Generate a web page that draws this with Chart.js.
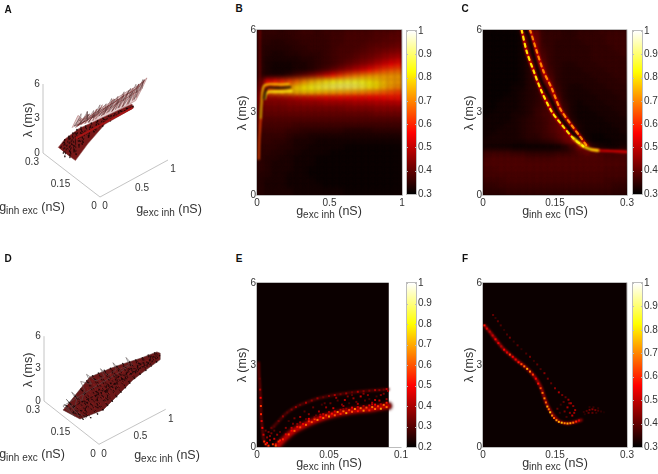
<!DOCTYPE html>
<html>
<head>
<meta charset="utf-8">
<script src="https://cdn.jsdelivr.net/npm/chart.js@4/dist/chart.umd.js"></script>
<style>
  body { margin: 0; background: #fff; width: 658px; height: 474px; overflow: hidden; position: relative; font-family: "Liberation Sans", sans-serif; color: #333; }
  canvas { position: absolute; }
  .lab { position: absolute; transform: translate(-50%, -50%); white-space: nowrap; font-size: 12.5px; }
  .lab sub { font-size: 10px; vertical-align: -3px; line-height: 0; }
  .rot { transform: translate(-50%, -50%) rotate(-90deg); }
  .panel { position: absolute; transform: translate(-50%, -50%); font-size: 10px; font-weight: bold; color: #111; }
</style>
</head>
<body>
<script>
// tick labels
const lamTicks = [0, 3, 6];
const gExcTicksB = [0, 0.5, 1];
const gInhTicks = [0, 0.15, 0.3];
const gExcTicksE = [0, 0.05, 0.1];
const barTicks3 = [0.3, 0.4, 0.5, 0.6, 0.7, 0.8, 0.9, 1];
const barTicks2 = [0.2, 0.3, 0.4, 0.5, 0.6, 0.7, 0.8, 0.9, 1];

// panel B, percent values, rows go from lambda 5.9 to 0.1, 20 columns
const heatB = [
  [36,36,36,35,36,36,37,37,36,37,37,37,38,38,38,38,39,39,39,40],
  [36,35,35,35,35,36,36,36,36,36,37,37,38,38,38,38,39,39,40,40],
  [35,35,34,34,35,35,36,36,36,36,37,37,38,38,38,39,39,40,40,41],
  [35,34,34,34,34,35,35,36,36,36,37,38,38,38,39,40,41,41,42,43],
  [35,34,33,33,34,34,35,35,35,36,37,38,38,39,40,41,42,44,45,46],
  [35,33,33,33,33,33,34,34,35,36,37,38,39,40,42,43,45,47,49,51],
  [35,33,32,32,32,33,33,34,35,36,37,39,41,43,45,47,50,53,56,58],
  [35,33,32,32,32,33,33,34,36,38,41,44,47,50,53,57,60,63,65,66],
  [35,33,33,33,35,38,41,44,48,52,57,61,65,68,70,72,73,73,73,73],
  [38,55,58,60,63,66,70,74,77,80,83,84,85,85,84,81,79,76,74,73],
  [40,62,65,67,72,77,81,84,86,88,89,90,90,89,87,84,81,77,74,72],
  [42,68,72,74,76,78,79,79,78,77,76,75,74,73,72,70,69,67,65,63],
  [44,46,46,47,48,50,51,52,53,54,54,55,55,55,55,56,56,57,58,58],
  [43,44,44,44,45,45,46,46,46,47,47,47,47,48,48,48,49,49,49,50],
  [42,42,42,42,43,43,43,43,43,43,43,43,44,44,44,44,45,45,45,45],
  [41,41,41,41,41,41,41,41,41,41,41,41,41,41,41,41,42,42,42,42],
  [40,39,39,39,39,39,39,39,39,39,39,39,39,39,39,39,39,39,39,39],
  [39,38,38,38,38,37,37,37,37,37,37,37,37,37,37,37,37,37,37,37],
  [37,37,37,37,36,36,35,35,35,35,35,35,34,34,34,34,35,35,35,35],
  [36,36,36,36,35,34,34,33,33,33,33,33,33,33,33,33,33,33,33,33],
  [36,36,35,35,34,33,33,33,32,32,32,32,32,32,32,32,32,32,32,32],
  [35,35,35,34,34,33,33,32,32,32,32,32,31,31,31,31,31,31,31,31],
  [35,35,34,34,33,33,32,32,32,32,31,31,31,31,31,31,31,31,31,31],
  [35,34,34,33,33,32,32,32,31,31,31,31,31,31,31,31,31,31,31,31],
  [35,34,33,33,33,32,32,32,31,31,31,31,31,31,31,31,31,31,31,31],
  [35,34,33,33,33,32,32,31,31,31,31,31,31,31,31,31,31,31,31,31],
  [34,34,33,33,32,32,32,31,31,31,31,31,31,31,31,31,31,31,31,31],
  [34,33,33,33,32,32,32,32,31,31,31,31,31,31,31,31,31,31,31,31],
  [34,33,33,33,32,32,32,32,32,31,31,31,31,31,31,31,31,31,31,31],
  [34,33,33,33,33,32,32,32,32,32,32,32,31,31,31,31,31,31,31,31]
];
const ridgeFaintG = [0.02, 0.02, 0.021]; const ridgeFaintL = [6, 4.5, 3.4];
const ridgeStemG = [0.012, 0.016, 0.02, 0.025]; const ridgeStemL = [1.3, 2, 2.4, 2.8];
const ridgeTopG = [0.025, 0.032, 0.036, 0.05, 0.09, 0.16, 0.22]; const ridgeTopL = [2.8, 3.4, 3.7, 3.98, 4.03, 4.02, 4.03];
const ridgeLowG = [0.055, 0.065, 0.1, 0.17, 0.24]; const ridgeLowL = [3.5, 3.72, 3.76, 3.76, 3.78];
const ridgeCoreG = [0.05, 0.056, 0.07, 0.13, 0.18, 0.23]; const ridgeCoreL = [3.5, 3.72, 3.9, 3.9, 3.9, 3.92];

// panel C, same layout as panel B
const heatC = [
  [31,31,31,31,31,33,42,42,36,36,36,35,35,36,36,36,37,37,37,37],
  [31,31,31,31,31,32,41,42,36,36,36,35,35,36,36,36,36,37,37,37],
  [31,31,31,31,31,32,39,43,36,36,35,35,35,35,36,36,36,37,37,37],
  [31,31,31,31,31,32,38,43,37,36,35,35,35,35,35,36,36,36,37,37],
  [31,31,31,31,31,32,36,43,38,36,35,35,35,35,35,36,36,36,36,37],
  [31,31,31,31,31,32,35,43,39,36,35,35,35,35,35,36,36,36,36,36],
  [31,31,31,31,31,32,34,42,41,36,35,34,34,35,35,35,36,36,36,36],
  [31,31,31,31,31,32,34,40,42,37,35,34,34,34,35,35,35,36,36,36],
  [31,31,31,31,31,32,34,38,43,38,35,34,34,34,34,35,35,35,36,36],
  [31,31,31,31,31,32,34,36,43,40,35,34,34,34,34,34,35,35,35,36],
  [31,31,31,31,32,32,34,35,41,41,36,34,33,33,34,34,34,35,35,35],
  [31,31,31,31,32,33,34,35,39,43,37,34,33,33,33,34,34,34,35,35],
  [31,31,31,32,32,33,34,35,38,43,39,34,33,33,33,33,34,34,34,35],
  [31,31,32,32,32,33,34,35,37,42,41,35,33,32,33,33,33,34,34,34],
  [31,31,32,32,32,33,34,36,37,40,43,36,33,32,32,33,33,33,34,34],
  [31,32,32,32,33,33,34,36,38,39,43,38,33,32,32,32,33,33,33,34],
  [32,32,32,32,33,34,35,36,37,39,42,40,34,32,32,32,32,33,33,33],
  [32,32,32,33,33,34,35,36,37,39,41,43,36,33,32,32,32,32,33,33],
  [32,32,33,33,33,34,35,36,37,39,41,43,40,33,32,32,32,32,32,33],
  [32,33,33,33,33,34,35,35,37,38,40,43,43,35,32,31,31,32,32,32],
  [33,33,33,33,33,33,34,34,35,36,38,42,46,41,33,31,31,31,32,32],
  [32,32,32,32,31,31,31,31,31,31,31,33,37,46,44,35,33,32,32,33],
  [37,37,37,37,36,36,35,35,35,35,36,36,37,39,42,41,39,38,38,40],
  [38,39,39,39,39,39,38,38,38,38,39,39,39,39,39,39,39,38,38,38],
  [39,39,39,39,39,39,39,39,39,39,39,39,39,39,39,39,39,39,39,39],
  [38,38,39,39,39,39,39,39,39,39,39,39,39,39,39,39,39,38,38,38],
  [38,38,38,38,38,38,38,38,38,38,38,38,38,38,38,38,38,38,38,38],
  [37,37,37,38,38,38,38,38,38,38,38,38,38,38,38,38,38,37,37,37],
  [36,36,37,37,37,37,37,37,37,37,37,37,37,37,37,37,37,37,36,36],
  [35,35,35,36,36,36,36,36,36,36,36,36,36,36,36,36,36,36,35,35]
];
const rimLeftG = [0.0806, 0.091, 0.107, 0.122, 0.143, 0.164, 0.188, 0.209]; const rimLeftL = [6, 5.22, 4.44, 3.77, 3.04, 2.56, 2.07, 1.77];
const rimRightG = [0.098, 0.112, 0.126, 0.143, 0.16, 0.181, 0.202, 0.217]; const rimRightL = [6, 5.22, 4.5, 3.89, 3.16, 2.62, 2.13, 1.77];
const rimCoreG = [0.0885, 0.0944, 0.105, 0.122, 0.14, 0.157, 0.178, 0.199]; const rimCoreL = [6, 5.83, 5.1, 4.13, 3.53, 2.92, 2.44, 2.01];
const rimTipG = [0.188, 0.209, 0.226, 0.24]; const rimTipL = [2.07, 1.77, 1.65, 1.62];
const rimTailG = [0.226, 0.25, 0.265, 0.3]; const rimTailL = [1.65, 1.61, 1.6, 1.57];

// panel E, bands and cells
const bandLowG = [0.0148, 0.0194, 0.0241, 0.0287, 0.0356, 0.0426, 0.0495, 0.0565, 0.0634, 0.0704, 0.0773, 0.0842, 0.0912];
const bandLowL = [0.07, 0.317, 0.536, 0.683, 0.866, 1.012, 1.134, 1.232, 1.293, 1.353, 1.378, 1.439, 1.5];
const bandUpG = [0.0102, 0.0148, 0.0194, 0.0241, 0.0287, 0.0356, 0.0426, 0.0495, 0.0565, 0.0634, 0.0704, 0.0773, 0.0842, 0.0912];
const bandUpL = [0.683, 0.927, 1.195, 1.378, 1.512, 1.658, 1.78, 1.866, 1.927, 1.987, 2.024, 2.06, 2.085, 2.11];
const spikeG = [0.0012, 0.0014, 0.0025, 0.0028, 0.0037, 0.005, 0.008]; const spikeL = [3.1, 2.76, 1.78, 1.17, 0.68, 0.2, 0];
const cellsEG = [
  .013,.016,.018,.02,.022,.024,.026,.028,.03,.032,.034,.036,.038,.04,.042,.044,.046,.048,.05,.052,.054,.056,.058,.06,.062,.064,.066,.068,.07,.072,.074,.076,.078,.08,.082,.084,.086,.088,.09,
  .024,.03,.036,.04,.046,.05,.054,.058,.062,.066,.07,.074,.078,.082,.086,.09,.028,.044,.06,.08,
  .012,.015,.018,.021,.024,.027,.03,.034,.038,.042,.046,.05,.054,.058,.062,.066,.07,.074,.078,.082,.085,.088,.09,.091,
  .016,.02,.022,.026,.03,.033,.036,.039,.043,.045,.048,.051,.053,.056,.059,.061,.064,.067,.069,.072,.075,.077,.08,.083,.085,.088,.09,.041,.047,.055,.063,.07,.078,.086,.034,.025,.06,.066,.074,.082,
  .0014,.0018,.0022,.0025,.0027,.0028,.0032,.0037,.0045,.005,.006,.007,.008,.009,.01,.011,.012,.013,.015,.006,.008,.01,.012,.014,.009,.007
];
const cellsEL = [
  .1,.24,.28,.46,.46,.6,.59,.74,.72,.84,.81,.94,.91,1.02,.99,1.1,1.06,1.16,1.12,1.22,1.16,1.28,1.21,1.31,1.24,1.35,1.29,1.39,1.31,1.42,1.33,1.44,1.34,1.46,1.39,1.49,1.4,1.54,1.46,
  .7,.9,1.03,1.08,1.2,1.28,1.3,1.36,1.4,1.44,1.46,1.5,1.52,1.55,1.56,1.62,.84,1.18,1.38,1.56,
  .75,.95,1.12,1.26,1.37,1.46,1.54,1.62,1.7,1.78,1.82,1.87,1.9,1.93,1.96,2,2.02,2.04,2.06,2.08,2.08,2.1,2.12,2.05,
  .55,.7,.95,1.05,1.1,1.3,1.2,1.45,1.3,1.55,1.45,1.6,1.42,1.7,1.55,1.72,1.6,1.78,1.65,1.85,1.7,1.9,1.62,1.85,1.7,1.95,1.75,1.15,1.6,1.8,1.85,1.58,1.75,1.9,1.02,.85,1.5,1.9,1.95,1.72,
  2.9,2.5,2.1,1.8,1.5,1.2,.95,.7,.45,.2,.1,.35,.05,.25,.5,.1,.3,.05,.2,.6,.55,.7,.6,.45,.4,.15
];
const cellsEV = [
  .48,.52,.54,.46,.58,.5,.6,.52,.58,.48,.62,.54,.6,.56,.64,.5,.62,.56,.66,.52,.6,.64,.54,.62,.68,.56,.6,.64,.52,.62,.66,.58,.54,.64,.62,.56,.68,.62,.64,
  .44,.4,.48,.38,.44,.4,.46,.42,.38,.48,.44,.4,.46,.5,.42,.52,.36,.4,.38,.44,
  .29,.33,.37,.3,.35,.38,.32,.4,.36,.38,.32,.36,.4,.34,.38,.32,.4,.36,.34,.4,.36,.32,.42,.38,
  .3,.36,.28,.34,.4,.3,.36,.32,.4,.28,.38,.32,.44,.3,.36,.42,.28,.38,.32,.44,.3,.36,.4,.28,.42,.34,.38,.32,.3,.38,.34,.4,.28,.36,.32,.34,.38,.3,.36,.42,
  .28,.32,.4,.5,.56,.54,.46,.5,.44,.55,.56,.38,.55,.4,.34,.56,.44,.6,.55,.32,.34,.32,.3,.38,.36,.5
];

// panel F
const curveG = [0.0035, 0.0139, 0.0278, 0.0417, 0.0556, 0.0694, 0.0833, 0.0972, 0.111, 0.1215, 0.1285, 0.1354, 0.1458, 0.1597, 0.177, 0.194, 0.205];
const curveL = [4.44, 4.22, 3.91, 3.61, 3.39, 3.18, 3.0, 2.78, 2.49, 2.15, 1.78, 1.475, 1.17, 0.927, 0.866, 0.927, 0.988];
const cellsFG = [
  .003,.008,.014,.02,.026,.032,.038,.044,.05,.056,.062,.068,.074,.08,.086,.092,.098,.104,.11,.115,.12,.124,.128,.131,.134,.137,.14,.144,.148,.153,.158,.164,.17,.176,.182,.188,.194,.2,
  .021,.026,.031,.037,.044,.05,.056,.064,.072,.08,.09,.098,.106,.113,.12,.128,.135,.142,.15,.158,.165,.172,.178,.183,.188,.192,
  .155,.162,.17,.176,.181,.186,.19,.174,.168,.16,.18,
  .21,.216,.222,.228,.234,.24,.246,.252,.22,.228,.236,.212,.222,.23,.24
];
const cellsFL = [
  4.45,4.33,4.22,4.08,3.94,3.8,3.68,3.56,3.46,3.38,3.3,3.2,3.1,3.03,2.95,2.86,2.76,2.65,2.5,2.32,2.15,1.98,1.78,1.63,1.48,1.38,1.27,1.15,1.06,.98,.92,.89,.87,.86,.87,.89,.93,.97,
  4.83,4.72,4.6,4.45,4.28,4.12,4,3.86,3.72,3.58,3.42,3.3,3.15,3.02,2.85,2.7,2.5,2.33,2.15,2,1.9,1.82,1.73,1.6,1.5,1.35,
  1.4,1.55,1.3,1.45,1.25,1.15,1.25,1.1,1.65,1.25,1.6,
  1.28,1.32,1.36,1.38,1.35,1.33,1.3,1.27,1.25,1.25,1.25,1.2,1.46,1.45,1.42
];
const cellsFV = [
  .58,.52,.48,.5,.56,.54,.48,.56,.52,.62,.55,.54,.58,.64,.68,.74,.7,.62,.56,.58,.64,.68,.7,.66,.74,.68,.76,.7,.66,.72,.74,.76,.7,.74,.72,.68,.6,.52,
  .4,.36,.4,.38,.35,.38,.42,.36,.4,.35,.38,.42,.36,.4,.38,.44,.42,.4,.44,.48,.42,.4,.46,.48,.44,.48,
  .4,.36,.42,.48,.44,.5,.46,.38,.4,.36,.44,
  .35,.38,.42,.44,.42,.38,.35,.33,.4,.4,.36,.34,.35,.36,.35
];

// panel A, mesh read as gExc, gInh, lambda
const stripAExc = [0, .04, .25, 1, 1, .63, .38, .17, .14];
const stripAInh = [.22, .2, .2, .19, .18, .2, .2, .19, .22];
const stripALam = [1.5, 2.35, 2.6, 2.45, 2.25, 1.75, .85, .2, .4];
const fanAExc = [.05, .054, .1, .15, .2, .3, .42, .55, .7, .85, .97, .93, 1, .49];
const fanAInh = [.165, .135, .13, .12, .125, .12, .115, .115, .11, .105, .1, .11, .17, .15];
const fanALam = [3.75, 5.2, 4.8, 5.1, 4.8, 5.1, 5.2, 5.3, 5.5, 5.6, 5.96, 5.1, 3, 3.4];
const gridAExc = [.05,.08,.12,.15,.19,.22,.26,.29,.33,.36,.4,.43,.47,.5,.54,.57,.61,.64,.68,.71,.75,.78,.82,.85,.89,.92,.96,.98];
const gridAInh = [.125,.165,.12,.17,.125,.165,.12,.165,.115,.165,.12,.16,.125,.165,.115,.16,.12,.165,.12,.16,.115,.16,.12,.155,.115,.15,.11,.14];
const gridALam = [5.1,3.8,4.7,3.6,5,3.7,4.8,3.5,5.2,3.6,4.9,3.6,4.8,3.4,5.3,3.5,4.9,3.3,5.1,3.4,5.4,3.3,5,3.4,5.5,3.6,5.7,4.3];
const crossAExc = [.08,.2,.32,.44,.56,.68,.8,.92,.97,.85,.72,.6,.48,.36,.24,.12,.1,.22,.34,.46,.58,.7,.82,.94];
const crossAInh = [.14,.135,.14,.13,.14,.13,.14,.125,.115,.135,.125,.14,.13,.145,.14,.15,.155,.15,.155,.15,.155,.145,.15,.135];
const crossALam = [4.6,4.5,4.5,4.7,4.5,4.8,4.6,5,5.5,4.7,5,4.5,4.7,4.2,4.3,4,3.9,4,3.9,4,3.9,4.2,4.1,4.5];
const hatchAExc = [.06,.1,.14,.18,.23,.27,.31,.35,.39,.44,.48,.52,.56,.6,.65,.69,.73,.77,.81,.85,.9,.94,.97];
const hatchAInh = [.15,.135,.155,.13,.15,.13,.15,.125,.15,.125,.145,.125,.145,.12,.145,.12,.14,.115,.135,.115,.13,.11,.125];
const hatchALam = [4.1,5.2,3.9,5.2,4,5,4,5.3,4.1,5.1,4,5.3,4.1,5.3,4.1,5.4,4.2,5.5,4.3,5.6,4.5,5.8,4.7];
const fillAExc = [.07,.09,.11,.13,.16,.17,.21,.24,.25,.28,.3,.34,.37,.38,.41,.45,.46,.49,.52,.53,.58,.59,.62,.66,.67,.7,.73,.74,.79,.8,.83,.87,.88,.91,.95];
const fillAInh = [.13,.16,.135,.165,.125,.16,.13,.165,.12,.16,.125,.16,.12,.16,.115,.155,.12,.155,.115,.155,.115,.15,.12,.155,.115,.15,.115,.15,.11,.145,.115,.14,.11,.135,.105];
const fillALam = [4.9,3.7,4.6,3.6,5.1,3.7,4.9,3.5,5,3.5,5.1,3.5,5.3,3.5,5.1,3.6,5,3.6,5.4,3.6,5.2,3.6,5,3.5,5.3,3.6,5.2,3.5,5.5,3.6,5.2,3.8,5.6,4,5.8];
const darkAExc = [.01,.04,.07,.1,.13,.16,.19,.22,.25,.28,.31,.35,.39,.43,.47,.51,.55,.59,.63,.67,.71,.75,.79,.83,.87,.91,.95,.99];
const darkAInh = [.21,.2,.21,.2,.205,.2,.205,.2,.2,.2,.2,.2,.2,.2,.2,.195,.2,.195,.2,.195,.195,.19,.19,.19,.185,.185,.18,.18];
const darkALam = [1.6,2.3,.6,2.4,.4,2.5,.7,2.6,1,2.6,1.2,2.5,1.4,2.5,1.6,2.5,1.8,2.45,1.9,2.4,2,2.4,2.1,2.4,2.2,2.4,2.3,2.4];
const dark2AExc = [.02,.06,.1,.14,.18,.22,.27,.32,.37,.42,.47,.52,.57,.62,.67,.72,.77,.82,.87,.92,.97];
const dark2AInh = [.2,.21,.19,.21,.19,.21,.19,.21,.19,.205,.19,.205,.19,.2,.185,.2,.185,.195,.18,.19,.175];
const dark2ALam = [1.2,1.9,1,2.1,.7,2.2,1.3,2,1.7,2.1,1.9,2.2,1.9,2.2,2.1,2.2,2.2,2.3,2.4,2.3,2.5];
const redAExc = [.2,.4,.6,.8,.98];
const redAInh = [.2,.195,.19,.185,.18];
const redALam = [1.9,2,2.1,2.2,2.3];

// panel D
const bandDExc = [.05,.1,.3,.5,.7,.85,1,1,.95,.8,.6,.5,.3,.1];
const bandDInh = [.215,.14,.087,.078,.07,.05,.03,.03,.03,.06,.105,.125,.16,.195];
const bandDLam = [.15,.15,1.05,1.9,2.76,3.5,4.2,4.8,5.07,4.6,4,3.7,3.1,1];
const gridDExc = [.06,.12,.09,.18,.15,.24,.21,.3,.27,.36,.33,.42,.39,.48,.45,.54,.51,.6,.57,.66,.63,.72,.69,.78,.75,.84,.81,.9,.87,.96,.93,.99];
const gridDInh = [.2,.13,.195,.11,.185,.095,.175,.087,.165,.084,.155,.08,.145,.078,.135,.076,.123,.074,.11,.072,.1,.068,.085,.06,.073,.05,.058,.043,.048,.035,.035,.03];
const gridDLam = [.7,.2,.95,.4,1.5,.75,2.1,1.05,2.8,1.3,3.2,1.55,3.4,1.8,3.6,2.05,3.75,2.3,3.9,2.55,4.1,2.85,4.25,3.15,4.4,3.45,4.6,3.75,4.8,4.05,5,4.6];
const midDExc = [.1,.16,.22,.28,.34,.4,.46,.52,.58,.64,.7,.76,.82,.88,.94,.98];
const midDInh = [.16,.13,.14,.11,.125,.1,.11,.095,.1,.085,.085,.07,.065,.05,.045,.03];
const midDLam = [.6,.9,1.6,1.7,2.3,2.2,2.7,2.7,3.2,3.2,3.6,3.6,4,4.1,4.5,4.6];
const backDExc = [.08,.14,.2,.26,.32,.38,.44,.5,.56,.62,.68,.74,.8,.86,.92,.97,.9,.8,.7,.6,.5,.4,.3,.2,.12];
const backDInh = [.17,.12,.15,.1,.13,.09,.12,.09,.11,.085,.09,.07,.075,.05,.05,.035,.04,.065,.08,.09,.1,.11,.13,.16,.18];
const backDLam = [.4,.5,1.3,1.2,2.1,1.7,2.6,2.3,3.1,2.8,3.6,3.3,3.9,3.8,4.5,4.4,4.2,3.6,3.2,2.9,2.6,2.2,1.8,1.2,.7];
const fillDExc = [.07,.11,.13,.17,.19,.23,.25,.29,.31,.35,.37,.41,.43,.47,.49,.53,.55,.59,.61,.65,.67,.71,.73,.77,.79,.83,.85,.89,.91,.95,.97];
const fillDInh = [.19,.14,.17,.115,.17,.1,.16,.09,.15,.085,.14,.08,.13,.078,.12,.076,.11,.074,.1,.072,.09,.068,.075,.06,.065,.05,.05,.043,.04,.035,.035];
const fillDLam = [.8,.3,1.1,.5,1.8,.9,2.4,1.2,2.9,1.4,3.1,1.7,3.3,1.9,3.5,2.2,3.6,2.4,3.8,2.7,3.9,3,4.1,3.2,4.3,3.5,4.5,3.8,4.7,4.2,4.8];
const stemDExc = [.08,.06,.1,.16,.14,.18,.24,.22,.3,.28,.34,.44,.42,.46,.56,.54,.58,.7,.68,.72,.05,.1,.08,.13,.11,.16];
const stemDInh = [.19,.2,.17,.18,.2,.16,.165,.18,.15,.17,.14,.13,.145,.12,.11,.12,.1,.09,.1,.08,.215,.17,.22,.15,.2,.13];
const stemDLam = [1,1.3,.8,1.2,1.7,1.3,2,2.7,2.6,3.3,2.9,3.1,3.7,3.3,3.6,4.2,3.7,3.9,4.5,4,.5,0,.5,.1,.6,.15];

// MATLAB hot colormap squeezed into lo..1
function hot(v, lo) {
  const t = (v - lo) / (1 - lo);
  const c = (a) => Math.round(255 * Math.max(0, Math.min(1, a)));
  return `rgb(${c(t / 0.375)},${c((t - 0.375) / 0.375)},${c((t - 0.75) / 0.25)})`;
}

const frameColor = '#bdbdbd';
const textColor = '#333';
const tickFont = { family: 'Liberation Sans', size: 10 };

function addCanvas(left, top, w, h) {
  const c = document.createElement('canvas');
  c.width = w; c.height = h;
  c.style.left = left + 'px'; c.style.top = top + 'px';
  document.body.appendChild(c);
  return c;
}

function addLabel(html, x, y, rotated) {
  const d = document.createElement('div');
  d.className = rotated ? 'lab rot' : 'lab';
  d.innerHTML = html;
  d.style.left = x + 'px'; d.style.top = y + 'px';
  document.body.appendChild(d);
}

function addLetter(s, x, y) {
  const d = document.createElement('div');
  d.className = 'panel';
  d.textContent = s;
  d.style.left = x + 'px'; d.style.top = y + 'px';
  document.body.appendChild(d);
}

// per dataset blur, the reference is a soft jpeg
const softPlugin = {
  id: 'soft',
  beforeDatasetDraw(chart, args) {
    const b = chart.data.datasets[args.index].blur;
    chart.ctx.filter = b ? `blur(${b}px)` : 'none';
  },
  afterDatasetDraw(chart) { chart.ctx.filter = 'none'; }
};

function heatChart(p) {
  const canvas = addCanvas(p.left - 30, p.top - 8, p.w + 46, p.h + 34);
  const layers = [];
  if (p.rows) {
    const cols = p.rows[0].length, n = p.rows.length;
    const pts = [], colors = [];
    p.rows.forEach((row, r) => row.forEach((val, c) => {
      pts.push({ x: (c + 0.5) / cols * p.xMax, y: 6 - (r + 0.5) / n * 6 });
      colors.push(hot(val / 100, p.lo));
    }));
    layers.push({ data: pts, pointStyle: 'rect', pointRadius: p.w / cols / Math.SQRT2 + 0.2, pointBorderWidth: 0,
      pointBackgroundColor: colors, showLine: false, blur: 2.6 });
  }
  (p.lines || []).forEach(l => {
    layers.push({ data: l.g.map((g, i) => ({ x: g, y: l.l[i] })), showLine: true, pointRadius: 0, tension: 0.3,
      borderColor: hot(l.v, p.lo), borderWidth: l.w, borderDash: l.dash || [], borderCapStyle: 'round', blur: l.blur || 0.8 });
  });
  if (p.cells) {
    layers.push({ data: p.cells.g.map((g, i) => ({ x: g, y: p.cells.l[i] })), showLine: false, pointStyle: 'rect', pointRadius: 1.4,
      pointBorderWidth: 0, pointBackgroundColor: p.cells.v.map(v => hot(v, p.lo)), blur: 0.7 });
  }
  layers.forEach((d, i) => { d.order = layers.length - i; });

  const frame = {
    id: 'frame',
    beforeDatasetsDraw(chart) {
      const { ctx, scales: { x, y } } = chart;
      ctx.fillStyle = p.back;
      const right = x.getPixelForValue(p.cellMax);
      ctx.fillRect(x.left, y.top, right - x.left, y.bottom - y.top);
    },
    afterDatasetsDraw(chart) {
      const { ctx, scales: { x, y } } = chart;
      const right = x.getPixelForValue(p.cellMax);
      ctx.strokeStyle = frameColor; ctx.lineWidth = 1;
      ctx.beginPath();
      ctx.moveTo(x.left - 0.5, y.bottom + 0.5); ctx.lineTo(x.left - 0.5, y.top - 0.5); ctx.lineTo(right, y.top - 0.5);
      if (p.cellMax === p.xMax) ctx.lineTo(right + 0.5, y.bottom + 0.5);
      ctx.moveTo(x.left - 0.5, y.bottom + 0.5); ctx.lineTo(x.right + 0.5, y.bottom + 0.5);
      ctx.stroke();
    }
  };

  new Chart(canvas, {
    type: 'scatter',
    data: { datasets: layers },
    plugins: [frame, softPlugin],
    options: {
      responsive: false, animation: false, events: [],
      layout: { autoPadding: false, padding: { top: 8, right: 16 } },
      plugins: { legend: { display: false }, tooltip: { enabled: false } },
      scales: {
        x: { type: 'linear', min: 0, max: p.xMax, grid: { display: false, drawTicks: false }, border: { display: false },
          afterBuildTicks: a => { a.ticks = p.xTicks.map(v => ({ value: v })); }, afterFit: s => { s.height = 26; },
          ticks: { font: tickFont, color: textColor, padding: 2, maxRotation: 0, autoSkip: false, callback: v => String(v) } },
        y: { type: 'linear', min: 0, max: 6, grid: { display: false, drawTicks: false }, border: { display: false },
          afterBuildTicks: a => { a.ticks = lamTicks.map(v => ({ value: v })); }, afterFit: s => { s.width = 30; },
          ticks: { font: tickFont, color: textColor, padding: 1, autoSkip: false, callback: v => String(v) } }
      }
    }
  });
}

function colorBar(left, top, h, lo, ticks) {
  const canvas = addCanvas(left, top - 8, 36, h + 16);
  new Chart(canvas, {
    type: 'bar',
    data: {
      labels: ['c'],
      datasets: [{
        data: [[lo, 1]],
        barPercentage: 1, categoryPercentage: 1, borderWidth: 0,
        backgroundColor: (c) => {
          const { chart } = c;
          if (!chart.chartArea) return '#000';
          const y = chart.scales.y;
          const g = chart.ctx.createLinearGradient(0, y.getPixelForValue(lo), 0, y.getPixelForValue(1));
          g.addColorStop(0, '#000'); g.addColorStop(0.375, '#f00'); g.addColorStop(0.75, '#ff0'); g.addColorStop(1, '#fff');
          return g;
        }
      }]
    },
    plugins: [{
      id: 'barFrame',
      afterDatasetsDraw(chart) {
        const { ctx, chartArea: a, scales: { y } } = chart;
        ctx.strokeStyle = frameColor; ctx.lineWidth = 1;
        ctx.strokeRect(a.left + 0.5, a.top - 0.5, a.right - a.left - 1, a.bottom - a.top + 1);
        ticks.forEach(t => {
          const py = Math.round(y.getPixelForValue(t)) + 0.5;
          ctx.beginPath(); ctx.moveTo(a.right - 2, py); ctx.lineTo(a.right, py); ctx.moveTo(a.left, py); ctx.lineTo(a.left + 2, py); ctx.stroke();
        });
      }
    }],
    options: {
      responsive: false, animation: false, events: [],
      layout: { autoPadding: false, padding: { top: 8, bottom: 8 } },
      plugins: { legend: { display: false }, tooltip: { enabled: false } },
      scales: {
        x: { display: false },
        y: { position: 'right', min: lo, max: 1, grid: { display: false, drawTicks: false }, border: { display: false },
          afterBuildTicks: a => { a.ticks = ticks.map(v => ({ value: v })); }, afterFit: s => { s.width = 25; },
          ticks: { font: tickFont, color: textColor, padding: 1, autoSkip: false, callback: v => String(v) } }
      }
    }
  });
}

function chart3d(left, top, view, polys, wires) {
  const project = (ge, gi, lam) => ({
    x: view.ox + view.ex * ge + view.ix * gi / 0.3,
    y: view.oy + view.ey * ge + view.iy * gi / 0.3 + view.ly * lam
  });
  const track = (ge, gi, lam) => ge.map((g, i) => project(g, gi[i], lam[i]));
  const sets = [];
  sets.push({ data: [project(1, 0, 0), project(0, 0, 0), project(0, 0.3, 0), project(0, 0.3, 6)], showLine: true, pointRadius: 0,
    borderColor: frameColor, borderWidth: 0.9, tension: 0 });
  polys.forEach(s => sets.push({ data: track(s.ge, s.gi, s.lam), showLine: true, pointRadius: 0, tension: 0, fill: 'shape',
    backgroundColor: s.color, borderColor: s.edge, borderWidth: 0.7, blur: 0.5 }));
  wires.forEach(s => sets.push({ data: track(s.ge, s.gi, s.lam), showLine: true, pointRadius: s.dot || 0, pointBorderWidth: 0,
    pointBackgroundColor: s.color, tension: 0, borderColor: s.color, borderWidth: s.w, borderDash: s.dash || [], blur: 0.3 }));
  sets.forEach((d, i) => { d.order = sets.length - i; });

  const tickText = {
    id: 'tickText',
    afterDatasetsDraw(chart) {
      const { ctx, scales: { x, y } } = chart;
      ctx.font = '10px "Liberation Sans"'; ctx.fillStyle = textColor; ctx.textAlign = 'center'; ctx.textBaseline = 'middle';
      const put = (v, p, dx, dy) => ctx.fillText(String(v), x.getPixelForValue(p.x) + dx, y.getPixelForValue(p.y) + dy);
      lamTicks.forEach(v => put(v, project(0, 0.3, v), -6, 0));
      gInhTicks.forEach(v => put(v, project(0, v, 0), v ? -11 : -6, 9.5));
      gExcTicksB.forEach(v => put(v, project(v, 0, 0), v === 0.5 ? 8 : 5, 9.5));
    }
  };

  new Chart(addCanvas(left, top, 220, 237), {
    type: 'scatter',
    data: { datasets: sets },
    plugins: [softPlugin, tickText],
    options: {
      responsive: false, animation: false, events: [],
      layout: { autoPadding: false, padding: 0 },
      plugins: { legend: { display: false }, tooltip: { enabled: false } },
      scales: { x: { display: false, min: 0, max: 220 }, y: { display: false, min: 0, max: 237, reverse: true } }
    }
  });
}

// panel A
chart3d(0, 0, { ox: 100, oy: 197, ex: 68, ey: -37, ix: -57, iy: -44, ly: -11.5 },
  [
    { ge: fanAExc, gi: fanAInh, lam: fanALam, color: 'rgba(190,130,130,0.4)', edge: 'rgba(170,110,110,0.8)' },
    { ge: stripAExc, gi: stripAInh, lam: stripALam, color: 'rgba(112,12,12,0.95)', edge: 'rgba(150,90,90,0.8)' }
  ],
  [
    { ge: gridAExc, gi: gridAInh, lam: gridALam, color: 'rgba(50,30,30,0.7)', w: 0.6 },
    { ge: fillAExc, gi: fillAInh, lam: fillALam, color: 'rgba(130,60,60,0.75)', w: 0.6 },
    { ge: crossAExc, gi: crossAInh, lam: crossALam, color: 'rgba(120,40,40,0.75)', w: 0.6 },
    { ge: hatchAExc, gi: hatchAInh, lam: hatchALam, color: 'rgba(80,50,50,0.7)', w: 0.6 },
    { ge: darkAExc, gi: darkAInh, lam: darkALam, color: 'rgba(25,5,5,0.8)', w: 1, dash: [2, 2], dot: 0.8 },
    { ge: dark2AExc, gi: dark2AInh, lam: dark2ALam, color: 'rgba(25,5,5,0.7)', w: 1, dash: [2, 1.5], dot: 0.8 },
    { ge: redAExc, gi: redAInh, lam: redALam, color: '#a81414', w: 1.8 }
  ]);

// panel D
chart3d(0, 237, { ox: 99, oy: 207.3, ex: 66.7, ey: -35, ix: -55, iy: -43.3, ly: -10.8 },
  [{ ge: bandDExc, gi: bandDInh, lam: bandDLam, color: 'rgba(98,12,12,0.95)', edge: 'rgba(90,50,50,0.8)' }],
  [
    { ge: stemDExc, gi: stemDInh, lam: stemDLam, color: 'rgba(90,80,80,0.8)', w: 0.7 },
    { ge: gridDExc, gi: gridDInh, lam: gridDLam, color: 'rgba(20,5,5,0.8)', w: 1, dash: [2, 2], dot: 0.8 },
    { ge: backDExc, gi: backDInh, lam: backDLam, color: 'rgba(20,5,5,0.75)', w: 1, dash: [3, 2], dot: 0.8 },
    { ge: fillDExc, gi: fillDInh, lam: fillDLam, color: 'rgba(165,30,30,0.6)', w: 0.8, dash: [2, 3] },
    { ge: midDExc, gi: midDInh, lam: midDLam, color: 'rgba(20,5,5,0.7)', w: 1.1, dash: [2, 2] }
  ]);

heatChart({ left: 257, top: 30, w: 145, h: 165, xMax: 1, cellMax: 1, xTicks: gExcTicksB, lo: 0.3, back: '#1a0000', rows: heatB,
  lines: [
    { g: ridgeFaintG, l: ridgeFaintL, v: 0.46, w: 1 },
    { g: ridgeStemG, l: ridgeStemL, v: 0.64, w: 1.6 },
    { g: ridgeTopG, l: ridgeTopL, v: 0.8, w: 1.5 },
    { g: ridgeLowG, l: ridgeLowL, v: 0.84, w: 1.7 },
    { g: ridgeCoreG, l: ridgeCoreL, v: 0.3, w: 1.8 }
  ] });
colorBar(406, 31, 163, 0.3, barTicks3);

heatChart({ left: 483, top: 30, w: 144, h: 165, xMax: 0.3, cellMax: 0.3, xTicks: gInhTicks, lo: 0.3, back: '#100000', rows: heatC,
  lines: [
    { g: rimLeftG, l: rimLeftL, v: 0.56, w: 2.4 },
    { g: rimRightG, l: rimRightL, v: 0.54, w: 2.4 },
    { g: rimLeftG, l: rimLeftL, v: 0.8, w: 2.2, dash: [3, 4], blur: 0.5 },
    { g: rimRightG, l: rimRightL, v: 0.7, w: 2.2, dash: [3, 4], blur: 0.5 },
    { g: rimCoreG, l: rimCoreL, v: 0.3, w: 2.4 },
    { g: rimTailG, l: rimTailL, v: 0.54, w: 2.2, blur: 1 },
    { g: rimTipG, l: rimTipL, v: 0.82, w: 2.4 }
  ] });
colorBar(632, 31, 163, 0.3, barTicks3);

heatChart({ left: 257, top: 283, w: 144, h: 164, xMax: 0.1, cellMax: 0.0915, xTicks: gExcTicksE, lo: 0.2, back: '#0b0000',
  lines: [
    { g: bandLowG, l: bandLowL, v: 0.3, w: 8, blur: 1.4 },
    { g: bandUpG, l: bandUpL, v: 0.3, w: 2.6, blur: 0.8 },
    { g: bandLowG, l: bandLowL, v: 0.42, w: 4.5, blur: 1.2 },
    { g: spikeG, l: spikeL, v: 0.38, w: 1.5 }
  ],
  cells: { g: cellsEG, l: cellsEL, v: cellsEV } });
colorBar(406, 283, 164, 0.2, barTicks2);

heatChart({ left: 483, top: 283, w: 144, h: 164, xMax: 0.3, cellMax: 0.3, xTicks: gInhTicks, lo: 0.3, back: '#0b0000',
  lines: [{ g: curveG, l: curveL, v: 0.48, w: 2.6, blur: 1 }],
  cells: { g: cellsFG, l: cellsFL, v: cellsFV } });
colorBar(632, 283, 164, 0.3, barTicks3);

// text
const lamLabel = '\u03bb (ms)';
const excLabel = 'g<sub>exc inh</sub> (nS)';
const inhLabel = 'g<sub>inh exc</sub> (nS)';
addLabel(lamLabel, 28, 120, true);
addLabel(inhLabel, 32, 207);
addLabel(excLabel, 169, 209);
addLabel(lamLabel, 242, 113, true);
addLabel(excLabel, 329, 211);
addLabel(lamLabel, 469, 113, true);
addLabel(inhLabel, 555, 211);
addLabel(lamLabel, 28, 370, true);
addLabel(inhLabel, 32, 454);
addLabel(excLabel, 167, 455);
addLabel(lamLabel, 242, 365, true);
addLabel(excLabel, 329, 463);
addLabel(lamLabel, 469, 365, true);
addLabel(inhLabel, 555, 463);
addLetter('A', 8, 9);
addLetter('B', 239, 8);
addLetter('C', 465, 8);
addLetter('D', 8, 258);
addLetter('E', 239, 258);
addLetter('F', 465, 258);
</script>
</body>
</html>
